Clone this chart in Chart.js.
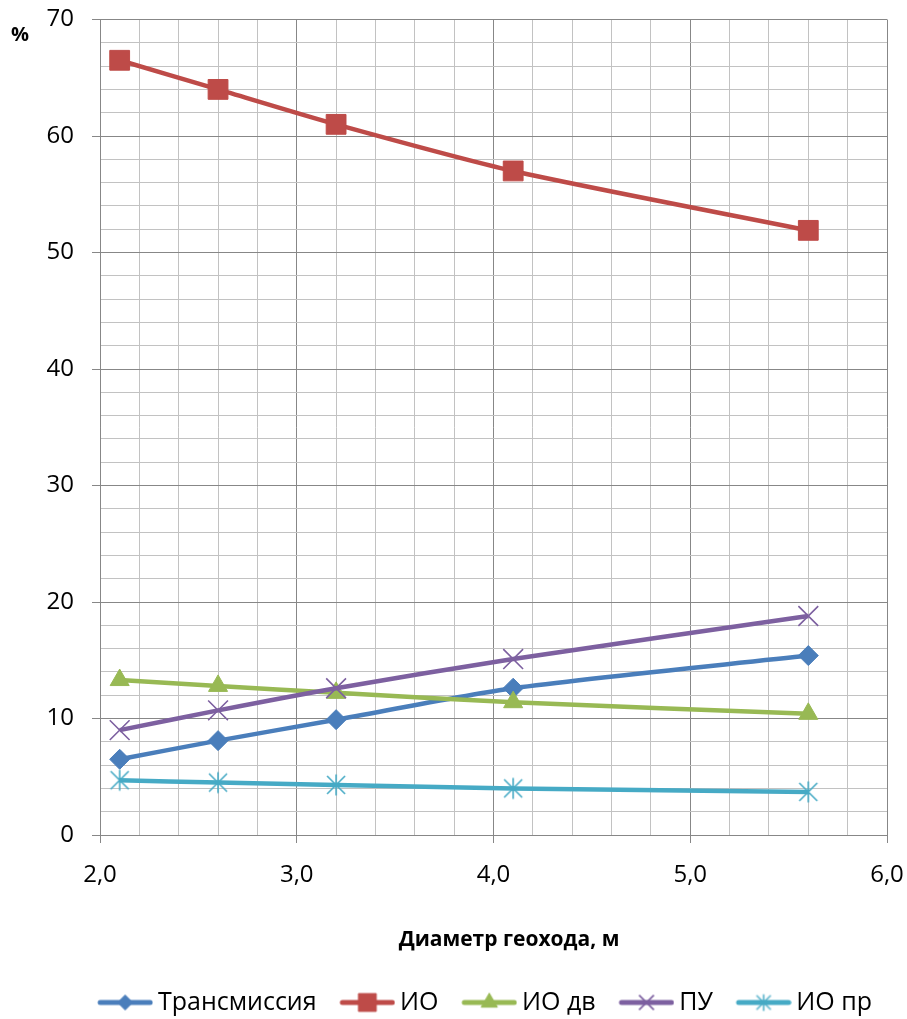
<!DOCTYPE html>
<html>
<head>
<meta charset="utf-8">
<script src="https://cdn.jsdelivr.net/npm/chart.js@4/dist/chart.umd.min.js"></script>
<style>
  html, body { margin: 0; padding: 0; background: #ffffff; }
  #wrap { width: 907px; height: 1019px; }
</style>
</head>
<body>
<div id="wrap"><canvas id="c" width="907" height="1019"></canvas></div>
<script>
// Geokhod diameter, m
const diameters = [2.1, 2.6, 3.2, 4.1, 5.6];

// Share of each subsystem, %
const transmission = [6.5, 8.1, 9.9, 12.6, 15.4];
const io          = [66.5, 64.0, 61.0, 57.0, 51.9];
const ioDv        = [13.3, 12.8, 12.2, 11.4, 10.4];
const pu          = [9.0, 10.7, 12.6, 15.1, 18.8];
const ioPr        = [4.7, 4.5, 4.3, 4.0, 3.7];

const seriesNames = ['Трансмиссия', 'ИО', 'ИО дв', 'ПУ', 'ИО пр'];
const seriesData  = [transmission, io, ioDv, pu, ioPr];
const seriesColors = ['#4A7EBB', '#BE4B48', '#98B954', '#7D60A0', '#46AAC5'];

const axisTitle = 'Диаметр геохода, м';
const unitLabel = '%';

const FONT = "'Open Sans', 'Noto Sans', sans-serif";
const GRID_MAJOR = '#878787';
const GRID_MINOR = '#c2c2c2';

function isWhole(v, step) {
  const q = v / step;
  return Math.abs(q - Math.round(q)) < 1e-6;
}

// asterisk marker: an X with a vertical stroke through it
function asteriskMarker(color, half, lw) {
  const s = Math.ceil(half * 2 + lw * 2 + 2);
  const cv = document.createElement('canvas');
  cv.width = s; cv.height = s;
  const g = cv.getContext('2d');
  const c = s / 2;
  g.strokeStyle = color;
  g.lineWidth = lw;
  g.beginPath();
  g.moveTo(c - half * 0.9, c - half * 0.9); g.lineTo(c + half * 0.9, c + half * 0.9);
  g.moveTo(c + half * 0.9, c - half * 0.9); g.lineTo(c - half * 0.9, c + half * 0.9);
  g.moveTo(c, c - half * 1.05); g.lineTo(c, c + half * 1.05);
  g.stroke();
  return cv;
}

const markerStyles = [
  { style: 'rectRot',  radius: 10, border: 1,   legendScale: 0.75 },
  { style: 'rect',     radius: 14, border: 1,   legendScale: 0.9 },
  { style: 'triangle', radius: 11, border: 1,   legendScale: 0.85 },
  { style: 'crossRot', radius: 14, border: 1.6, legendScale: 0.75 },
  { style: asteriskMarker(seriesColors[4], 10, 1.6), radius: 10, border: 1.6, legendScale: 0.75 }
];

// legend swatch: a line segment with the series marker in the middle
const SWATCH_W = 74, LINE_FROM = 18.5, LINE_TO = 73.5;
function legendIcon(i) {
  const color = seriesColors[i];
  const cv = document.createElement('canvas');
  cv.width = SWATCH_W; cv.height = 26;
  const g = cv.getContext('2d');
  g.strokeStyle = color;
  g.fillStyle = color;
  g.lineWidth = 5;
  g.lineCap = 'round';
  g.beginPath(); g.moveTo(LINE_FROM + 2.5, 13); g.lineTo(LINE_TO - 2.5, 13); g.stroke();
  const cx = (LINE_FROM + LINE_TO) / 2;
  const m = markerStyles[i];
  if (typeof m.style === 'string') {
    g.lineWidth = m.border;
    g.lineCap = 'butt';
    Chart.helpers.drawPoint(g, { pointStyle: m.style, radius: m.radius * m.legendScale, rotation: 0, borderWidth: m.border }, cx, 13);
  } else {
    g.drawImage(asteriskMarker(color, 7.5, 1.4), cx - 10.5, 2.5, 21, 21);
  }
  return cv;
}

const datasets = seriesNames.map((name, i) => ({
  label: name,
  data: diameters.map((d, k) => ({ x: d, y: seriesData[i][k] })),
  borderColor: seriesColors[i],
  backgroundColor: seriesColors[i],
  pointBackgroundColor: seriesColors[i],
  pointBorderColor: seriesColors[i],
  pointStyle: markerStyles[i].style,
  pointRadius: markerStyles[i].radius,
  pointBorderWidth: markerStyles[i].border,
  borderWidth: 4.5,
  tension: 0.25,
  order: 5 - i
}));

// unit label in the upper-left corner and the horizontal axis caption
const captions = {
  id: 'captions',
  afterDraw(chart) {
    const ctx = chart.ctx;
    ctx.save();
    ctx.fillStyle = '#000000';
    ctx.textBaseline = 'middle';
    ctx.textAlign = 'left';
    ctx.font = "bold 20px " + FONT;
    ctx.fillText(unitLabel, 11, 35);
    ctx.textAlign = 'center';
    ctx.font = "bold 21px " + FONT;
    ctx.fillText(axisTitle, 509, 940);
    ctx.restore();
  }
};

// nudge the legend row to its place under the plot
const legendShift = {
  id: 'legendShift',
  afterLayout(chart) {
    const lg = chart.legend;
    if (!lg) return;
    const dx = 36, dy = 6;
    lg.left += dx; lg.right += dx;
    lg.top += dy; lg.bottom += dy;
  }
};

new Chart(document.getElementById('c'), {
  type: 'line',
  data: { datasets },
  options: {
    responsive: false,
    animation: false,
    devicePixelRatio: 1,
    layout: { padding: { top: 19.5, right: 20, left: 0, bottom: 0 } },
    plugins: {
      tooltip: { enabled: false },
      legend: {
        position: 'bottom',
        labels: {
          usePointStyle: true,
          pointStyleWidth: 58.5,
          padding: 12.5,
          color: '#000000',
          font: { family: FONT, size: 25 },
          generateLabels(chart) {
            return chart.data.datasets.map((ds, i) => ({
              text: ds.label,
              datasetIndex: i,
              pointStyle: legendIcon(i),
              fillStyle: seriesColors[i],
              strokeStyle: seriesColors[i],
              lineWidth: 0,
              hidden: false,
              fontColor: '#000000'
            }));
          }
        }
      }
    },
    scales: {
      x: {
        type: 'linear',
        min: 2, max: 6,
        afterFit(scale) {
          scale.height = 136.5;
          scale.paddingLeft = 0;
          scale.paddingRight = 0;
        },
        ticks: {
          stepSize: 0.2,
          autoSkip: false,
          maxRotation: 0,
          padding: 18,
          color: '#000000',
          font: { family: FONT, size: 24 },
          callback: (v) => isWhole(v, 1) ? v.toFixed(1).replace('.', ',') : ''
        },
        grid: {
          color: (c) => isWhole(c.tick.value, 1) ? GRID_MAJOR : GRID_MINOR,
          tickColor: (c) => isWhole(c.tick.value, 1) ? GRID_MAJOR : 'rgba(0,0,0,0)',
          tickLength: 8,
          lineWidth: 1
        },
        border: { color: GRID_MAJOR, width: 1 }
      },
      y: {
        type: 'linear',
        min: 0, max: 70,
        afterFit(scale) {
          scale.width = 100;
          scale.paddingTop = 0;
          scale.paddingBottom = 0;
        },
        ticks: {
          stepSize: 2,
          autoSkip: false,
          padding: 18,
          color: '#000000',
          font: { family: FONT, size: 24 },
          callback: (v) => isWhole(v, 10) ? String(v) : ''
        },
        grid: {
          color: (c) => isWhole(c.tick.value, 10) ? GRID_MAJOR : GRID_MINOR,
          tickColor: (c) => isWhole(c.tick.value, 10) ? GRID_MAJOR : 'rgba(0,0,0,0)',
          tickLength: 8,
          lineWidth: 1
        },
        border: { color: GRID_MAJOR, width: 1 }
      }
    }
  },
  plugins: [captions, legendShift]
});
</script>
</body>
</html>
